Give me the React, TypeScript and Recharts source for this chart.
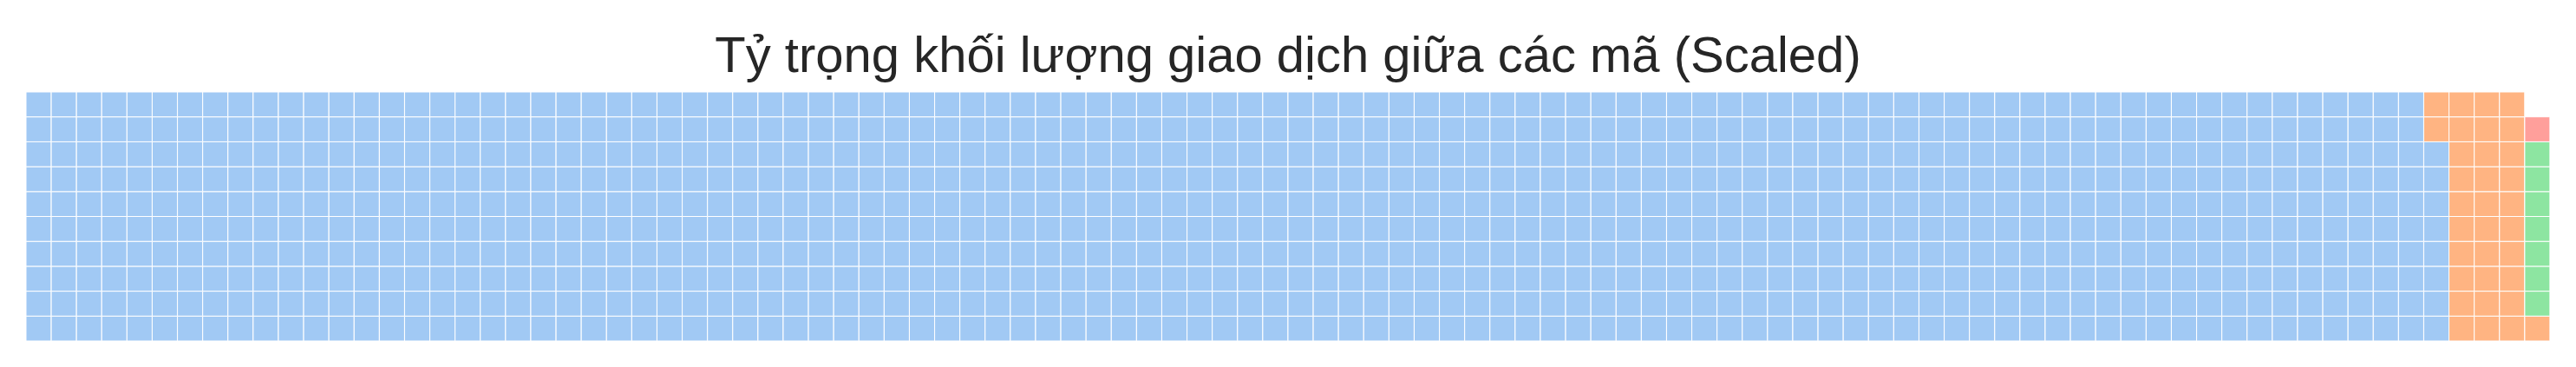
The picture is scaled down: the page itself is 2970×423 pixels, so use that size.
import { BarChart, Bar, Cell, XAxis, YAxis } from "recharts";

// waffle: 100 columns x 10 rows, filled column by column from the bottom
const categories = ["Mã 1", "Mã 2", "Mã 3", "Mã 4"];
const values = [958, 33, 7, 1]; // scaled cell counts (sum 999 of 1000)
const COLORS = ["#a1c9f4", "#ffb482", "#8de5a1", "#ff9f9b"];

const ROWS = 10;
const COLS = 100;

// which category owns each cell (-1 = empty)
const owner: number[] = [];
categories.forEach((_, ci) => {
  for (let k = 0; k < values[ci]; k++) owner.push(ci);
});
while (owner.length < ROWS * COLS) owner.push(-1);

const rowKeys = Array.from({ length: ROWS }, (_, r) => `r${r}`);

const data = Array.from({ length: COLS }, (_, c) => {
  const row: Record<string, number | string> = { col: `c${c}` };
  rowKeys.forEach((k) => (row[k] = 1));
  return row;
});

export default function App() {
  return (
    <div
      style={{
        position: "absolute",
        left: 0,
        top: 0,
        width: 2970,
        height: 423,
        background: "#ffffff",
      }}
    >
      <svg
        width={2970}
        height={100}
        style={{ position: "absolute", left: 0, top: 0 }}
      >
        <text
          x={1485}
          y={83}
          textAnchor="middle"
          fontFamily="'Liberation Sans', Arial, sans-serif"
          fontSize={58}
          fill="#262626"
        >
          Tỷ trọng khối lượng giao dịch giữa các mã (Scaled)
        </text>
      </svg>
      <div style={{ position: "absolute", left: 0, top: 0 }}>
        <BarChart
          width={2970}
          height={423}
          data={data}
          barCategoryGap={0}
          margin={{ top: 106, right: 30, bottom: 30, left: 30 }}
        >
          <XAxis dataKey="col" hide />
          <YAxis type="number" domain={[0, ROWS]} hide />
          {rowKeys.map((k, r) => (
            <Bar
              key={k}
              dataKey={k}
              stackId="waffle"
              isAnimationActive={false}
            >
              {data.map((_, c) => {
                const o = owner[c * ROWS + r];
                return (
                  <Cell
                    key={c}
                    fill={o < 0 ? "none" : COLORS[o]}
                    stroke={o < 0 ? "none" : "#ffffff"}
                    strokeWidth={1}
                  />
                );
              })}
            </Bar>
          ))}
        </BarChart>
      </div>
    </div>
  );
}
